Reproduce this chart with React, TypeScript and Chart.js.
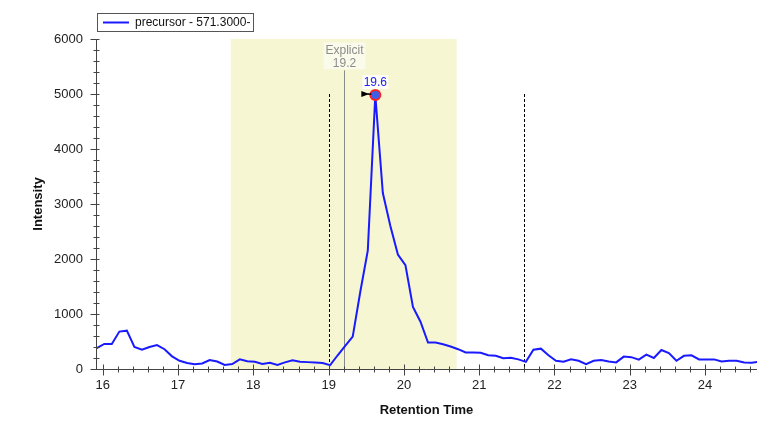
import React, { useEffect, useRef } from "react";
import { Chart, registerables } from "chart.js";

Chart.register(...registerables);

const seriesLabel = "precursor - 571.3000-";

const retentionTimes = [
  15.92, 16.02, 16.12, 16.22, 16.32, 16.42, 16.52, 16.62, 16.72, 16.82,
  16.92, 17.02, 17.12, 17.22, 17.32, 17.42, 17.52, 17.62, 17.72, 17.82,
  17.92, 18.02, 18.12, 18.22, 18.32, 18.42, 18.52, 18.62, 18.72, 18.82,
  18.92, 19.02, 19.12, 19.22, 19.32, 19.42, 19.52, 19.62, 19.72, 19.82,
  19.92, 20.02, 20.12, 20.22, 20.32, 20.42, 20.52, 20.62, 20.72, 20.82,
  20.92, 21.02, 21.12, 21.22, 21.32, 21.42, 21.52, 21.62, 21.72, 21.82,
  21.92, 22.02, 22.12, 22.22, 22.32, 22.42, 22.52, 22.62, 22.72, 22.82,
  22.92, 23.02, 23.12, 23.22, 23.32, 23.42, 23.52, 23.62, 23.72, 23.82,
  23.92, 24.02, 24.12, 24.22, 24.32, 24.42, 24.52, 24.62, 24.72,
];

const intensities = [
  380, 455, 455, 680, 697, 400, 350, 400, 435, 360,
  230, 150, 110, 85, 100, 164, 135, 75, 90, 176,
  140, 130, 90, 115, 75, 120, 160, 130, 125, 120,
  110, 70, 250, 420, 590, 1400, 2150, 4980, 3200, 2600,
  2080, 1890, 1130, 860, 480, 480, 450, 410, 360, 300,
  300, 295, 250, 240, 195, 205, 175, 130, 350, 370,
  250, 150, 133, 176, 150, 90, 150, 165, 135, 120,
  225, 215, 170, 260, 200, 345, 290, 150, 240, 250,
  175, 175, 175, 135, 150, 150, 120, 115, 130,
];

const xTickValues = [16, 17, 18, 19, 20, 21, 22, 23, 24];
const yTickValues = [0, 1000, 2000, 3000, 4000, 5000, 6000];
const xRange = [15.91, 24.69];
const yRange = [0, 6000];

const peakIndex = 37;
const peakLabel = "19.6";
const explicitTime = 19.2;
const explicitLabel = ["Explicit", "19.2"];
const explicitTop = 5430;
const boundaryTimes = [19.01, 21.59];
const boundaryTop = 5000;
const windowRange = [17.7, 20.7];

const FONT = "'Liberation Sans', Arial, sans-serif";

const overlayPlugin = {
  id: "overlay",
  beforeDatasetsDraw(chart: any) {
    const { ctx, chartArea: a, scales } = chart;
    const x = scales.x;
    const y = scales.y;
    ctx.save();
    const x1 = x.getPixelForValue(windowRange[0]);
    const x2 = x.getPixelForValue(windowRange[1]);
    ctx.fillStyle = "rgb(246,246,210)";
    ctx.fillRect(x1, a.top, x2 - x1, a.bottom - a.top);
    ctx.strokeStyle = "#000";
    ctx.lineWidth = 1;
    ctx.setLineDash([3, 2]);
    for (const t of boundaryTimes) {
      const px = Math.round(x.getPixelForValue(t)) + 0.5;
      ctx.beginPath();
      ctx.moveTo(px, y.getPixelForValue(boundaryTop));
      ctx.lineTo(px, y.getPixelForValue(0));
      ctx.stroke();
    }
    ctx.setLineDash([]);
    const ex = Math.round(x.getPixelForValue(explicitTime)) + 0.5;
    ctx.strokeStyle = "#8a8a8a";
    ctx.beginPath();
    ctx.moveTo(ex, y.getPixelForValue(explicitTop));
    ctx.lineTo(ex, y.getPixelForValue(0));
    ctx.stroke();
    const ly = y.getPixelForValue(explicitTop);
    ctx.fillStyle = "rgba(255,255,255,0.55)";
    ctx.fillRect(ex - 21, ly - 28, 42, 27);
    ctx.fillStyle = "#8c8c8c";
    ctx.font = `12px ${FONT}`;
    ctx.textAlign = "center";
    ctx.textBaseline = "middle";
    ctx.fillText(explicitLabel[0], ex, ly - 20);
    ctx.fillText(explicitLabel[1], ex, ly - 7);
    ctx.restore();
  },
  afterDatasetsDraw(chart: any) {
    const { ctx, chartArea: a, scales } = chart;
    const x = scales.x;
    const y = scales.y;
    ctx.save();
    const px = x.getPixelForValue(retentionTimes[peakIndex]);
    const py = y.getPixelForValue(intensities[peakIndex]);
    ctx.fillStyle = "rgba(255,255,255,0.85)";
    ctx.fillRect(px - 13, py - 20, 26, 14);
    ctx.fillStyle = "#2020ff";
    ctx.font = `12px ${FONT}`;
    ctx.textAlign = "center";
    ctx.textBaseline = "middle";
    ctx.fillText(peakLabel, px, py - 12);
    ctx.fillStyle = "#000";
    ctx.beginPath();
    ctx.moveTo(px - 14, py - 4);
    ctx.lineTo(px - 14, py + 2);
    ctx.lineTo(px - 6, py - 1);
    ctx.closePath();
    ctx.fill();
    ctx.strokeStyle = "#000";
    ctx.lineWidth = 1.5;
    ctx.beginPath();
    ctx.moveTo(px - 8, py - 1);
    ctx.lineTo(px - 4, py - 1);
    ctx.stroke();

    ctx.strokeStyle = "#444";
    ctx.lineWidth = 1;
    const left = Math.round(a.left) + 0.5;
    const bottom = Math.round(a.bottom) + 0.5;
    ctx.beginPath();
    ctx.moveTo(left, a.top);
    ctx.lineTo(left, bottom);
    ctx.lineTo(a.right, bottom);
    ctx.stroke();
    for (let v = yRange[0]; v <= yRange[1]; v += 200) {
      const ty = Math.round(y.getPixelForValue(v)) + 0.5;
      const major = v % 1000 === 0;
      ctx.beginPath();
      ctx.moveTo(left - (major ? 6 : 3), ty);
      ctx.lineTo(left + 3, ty);
      ctx.stroke();
    }
    for (let i = 80; i <= 246; i += 2) {
      const v = i / 10;
      if (v < xRange[0] || v > xRange[1]) continue;
      const tx = Math.round(x.getPixelForValue(v)) + 0.5;
      const major = i % 10 === 0;
      ctx.beginPath();
      ctx.moveTo(tx, bottom - (major ? 5 : 3));
      ctx.lineTo(tx, bottom + (major ? 6 : 3));
      ctx.stroke();
    }

    ctx.fillStyle = "#fff";
    ctx.fillRect(97.5, 13.5, 156, 18);
    ctx.strokeStyle = "#555";
    ctx.strokeRect(97.5, 13.5, 156, 18);
    ctx.strokeStyle = "#1a1aff";
    ctx.lineWidth = 2;
    ctx.beginPath();
    ctx.moveTo(103, 22.5);
    ctx.lineTo(129, 22.5);
    ctx.stroke();
    ctx.fillStyle = "#111";
    ctx.font = `12px ${FONT}`;
    ctx.textAlign = "left";
    ctx.textBaseline = "middle";
    ctx.fillText(seriesLabel, 135, 23);
    ctx.restore();
  },
};

export default function App() {
  const ref = useRef<HTMLCanvasElement | null>(null);
  useEffect(() => {
    const canvas = ref.current;
    if (!canvas) return;
    const points = retentionTimes.map((t, i) => ({ x: t, y: intensities[i] }));
    const chart = new Chart(canvas, {
      type: "line",
      data: {
        datasets: [
          {
            label: seriesLabel,
            data: points,
            borderColor: "#1a1aff",
            borderWidth: 2,
            tension: 0,
            pointRadius: (c: any) => (c.dataIndex === peakIndex ? 5 : 0),
            pointBackgroundColor: "#3f5fe8",
            pointBorderColor: "#ff2020",
            pointBorderWidth: 2,
          },
        ],
      },
      options: {
        animation: false,
        responsive: false,
        maintainAspectRatio: false,
        layout: { padding: { top: 39, right: 12, left: 0, bottom: 0 } },
        plugins: { legend: { display: false }, tooltip: { enabled: false } },
        scales: {
          x: {
            type: "linear",
            min: xRange[0],
            max: xRange[1],
            afterBuildTicks: (s: any) => {
              s.ticks = xTickValues.map((v) => ({ value: v }));
            },
            afterFit: (s: any) => {
              s.height = 56;
            },
            grid: { display: false, drawTicks: false },
            border: { display: false },
            ticks: {
              padding: 9,
              color: "#222",
              font: { family: FONT, size: 13 },
              callback: (v: any) => String(v),
            },
            title: {
              display: true,
              text: "Retention Time",
              color: "#111",
              font: { family: FONT, size: 13, weight: "bold" },
              padding: { top: 0, bottom: 7 },
            },
          },
          y: {
            type: "linear",
            min: yRange[0],
            max: yRange[1],
            afterBuildTicks: (s: any) => {
              s.ticks = yTickValues.map((v) => ({ value: v }));
            },
            afterFit: (s: any) => {
              s.width = 96;
            },
            grid: { display: false, drawTicks: false },
            border: { display: false },
            ticks: {
              padding: 13,
              color: "#222",
              font: { family: FONT, size: 13 },
              callback: (v: any) => String(v),
            },
            title: {
              display: true,
              text: "Intensity",
              color: "#111",
              font: { family: FONT, size: 13, weight: "bold" },
              padding: { top: 31, bottom: 0 },
            },
          },
        },
      },
      plugins: [overlayPlugin],
    } as any);
    return () => chart.destroy();
  }, []);
  return (
    <div style={{ position: "fixed", left: 0, top: 0, width: 769, height: 425, background: "#fff" }}>
      <canvas ref={ref} width={769} height={425} style={{ width: 769, height: 425, display: "block" }} />
    </div>
  );
}
